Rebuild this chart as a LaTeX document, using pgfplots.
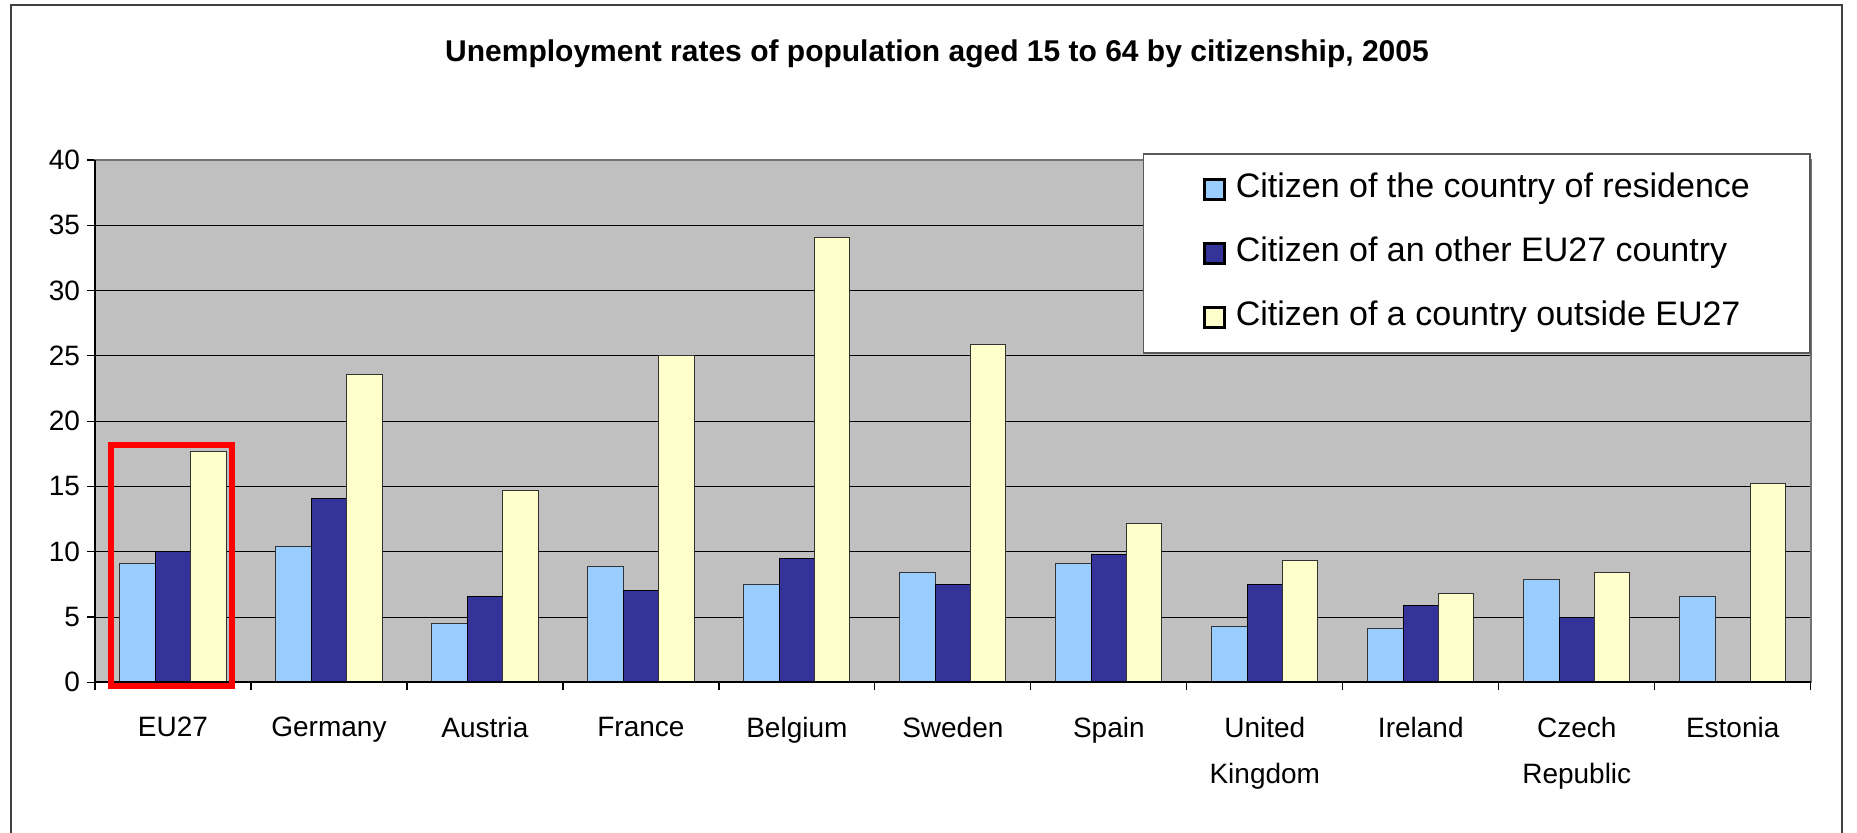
\documentclass[border=0pt]{standalone}
\usepackage{fontspec}
\setmainfont{Liberation Sans}
\usepackage{pgfplots}
\pgfplotsset{compat=1.18}
\definecolor{cLight}{HTML}{99CCFF}
\definecolor{cDark}{HTML}{333399}
\definecolor{cYel}{HTML}{FFFFCC}
\definecolor{cBg}{HTML}{C0C0C0}
\pgfplotsset{sqlegend/.style={legend image code/.code={\draw[##1,draw=black,line width=1.2pt] (0pt,-5pt) rectangle (10pt,5pt);}}}
\begin{document}
\begin{tikzpicture}
\useasboundingbox (0,0) rectangle (928.5pt,-416.5pt);
\draw[black!75, line width=1pt] (5.5pt,-416.5pt) -- (5.5pt,-2.5pt) -- (920.8pt,-2.5pt) -- (920.8pt,-416.5pt);
\node[font=\fontsize{15}{17}\selectfont\bfseries] at (468.5pt,-26.8pt) {Unemployment rates of population aged 15 to 64 by citizenship, 2005};
\begin{axis}[
 at={(47.5pt,-341.15pt)}, anchor=south west,
 scale only axis, width=857.85pt, height=261.15pt,
 xmin=-0.5, xmax=10.5, ymin=0, ymax=40,
 ytick={0,5,...,40},
 xtick={0,...,10},
 xticklabels={EU27,Germany,Austria,France,Belgium,Sweden,Spain,United\\Kingdom,Ireland,Czech\\Republic,Estonia},
 minor xtick={-0.5,0.5,...,10.5},
 tick pos=left,
 major x tick style={draw=none},
 minor x tick style={black, line width=0.6pt},
 y tick style={black, line width=0.6pt},
 tick align=outside, major tick length=4pt, minor tick length=4pt,
 ymajorgrids, grid style={black, line width=0.5pt},
 axis background/.style={fill=cBg},
 axis line style={draw=black!55, line width=1pt},
 ticklabel style={font=\fontsize{14}{23}\selectfont},
 /pgf/number format/assume math mode=true,
 xticklabel style={align=center, yshift=-10pt},
 ybar, bar width=0.227,
 clip=false,
 legend style={at={(1,1)}, anchor=north east, yshift=3.4pt,
   draw=black!65, line width=0.8pt, fill=white,
   font=\fontsize{17}{20}\selectfont,
   inner xsep=30pt, inner ysep=9.75pt, row sep=16pt, column sep=5pt,
   nodes={inner sep=0pt, text height=12pt, text depth=4pt}},
 legend cell align=left,
]
\addplot[sqlegend, fill=cLight, draw=black!80, line width=0.5pt, bar shift=-0.227] coordinates {
(0,9.1) (1,10.4) (2,4.5) (3,8.9) (4,7.5) (5,8.4) (6,9.1) (7,4.3) (8,4.1) (9,7.9) (10,6.6)};
\addlegendentry{Citizen of the country of residence}
\addplot[sqlegend, fill=cDark, draw=black, line width=0.5pt, bar shift=0] coordinates {
(0,10.0) (1,14.1) (2,6.6) (3,7.0) (4,9.5) (5,7.5) (6,9.8) (7,7.5) (8,5.9) (9,5.0)};
\addlegendentry{Citizen of an other EU27 country}
\addplot[sqlegend, fill=cYel, draw=black!80, line width=0.5pt, bar shift=0.227] coordinates {
(0,17.7) (1,23.6) (2,14.7) (3,25.0) (4,34.1) (5,25.9) (6,12.2) (7,9.3) (8,6.8) (9,8.4) (10,15.2)};
\addlegendentry{Citizen of a country outside EU27}
\draw[black, line width=1pt] (rel axis cs:0,1) -- (rel axis cs:0,0) -- (rel axis cs:1,0);
\draw[red, line width=3pt] (axis cs:-0.397,-0.28) rectangle (axis cs:0.378,18.17);
\end{axis}
\end{tikzpicture}
\end{document}
